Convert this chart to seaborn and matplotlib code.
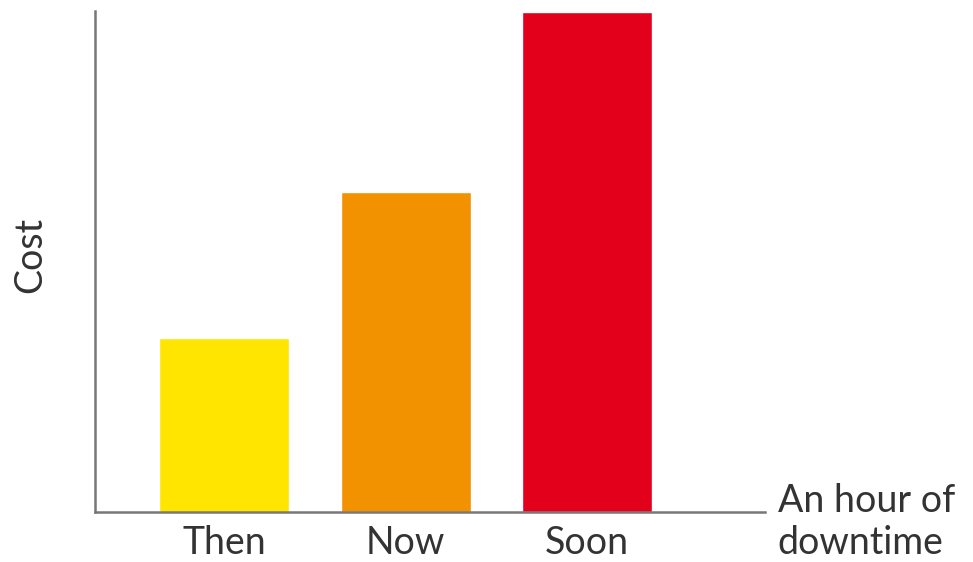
import matplotlib
matplotlib.use("Agg")
import matplotlib.pyplot as plt
import seaborn as sns
import pandas as pd

# values (relative cost, tallest bar = 100)
periods = ["Then", "Now", "Soon"]
cost = [34.8, 64.0, 100.0]
bar_colors = ["#FFE500", "#F39200", "#E2001A"]

df = pd.DataFrame({"period": periods, "cost": cost})

sns.set_theme(style="white")
plt.rcParams["font.family"] = ["Lato", "DejaVu Sans"]

fig = plt.figure(figsize=(9.73, 5.62), dpi=100)
ax = fig.add_axes([95 / 973, 1 - 512 / 562, 670 / 973, 501 / 562])

sns.barplot(data=df, x="period", y="cost", hue="period", palette=bar_colors,
            legend=False, width=0.716, saturation=1, ax=ax)

ax.set_xlim(-0.711, 2.98)
ax.set_ylim(0, 100.2)
ax.set_yticks([])
ax.tick_params(axis="x", length=0, pad=9, labelsize=27, labelcolor="#333333")

for side in ["top", "right"]:
    ax.spines[side].set_visible(False)
for side in ["left", "bottom"]:
    ax.spines[side].set_color("#777777")
    ax.spines[side].set_linewidth(1.8)

ax.set_xlabel("An hour of\ndowntime", fontsize=27, color="#333333",
              ha="left", va="center", linespacing=1.2)
ax.xaxis.set_label_coords(1.019, -0.02)
ax.set_ylabel("Cost", fontsize=27, color="#333333", va="center")
ax.yaxis.set_label_coords(-0.097, 0.513)

plt.savefig("out.png", dpi=100)
